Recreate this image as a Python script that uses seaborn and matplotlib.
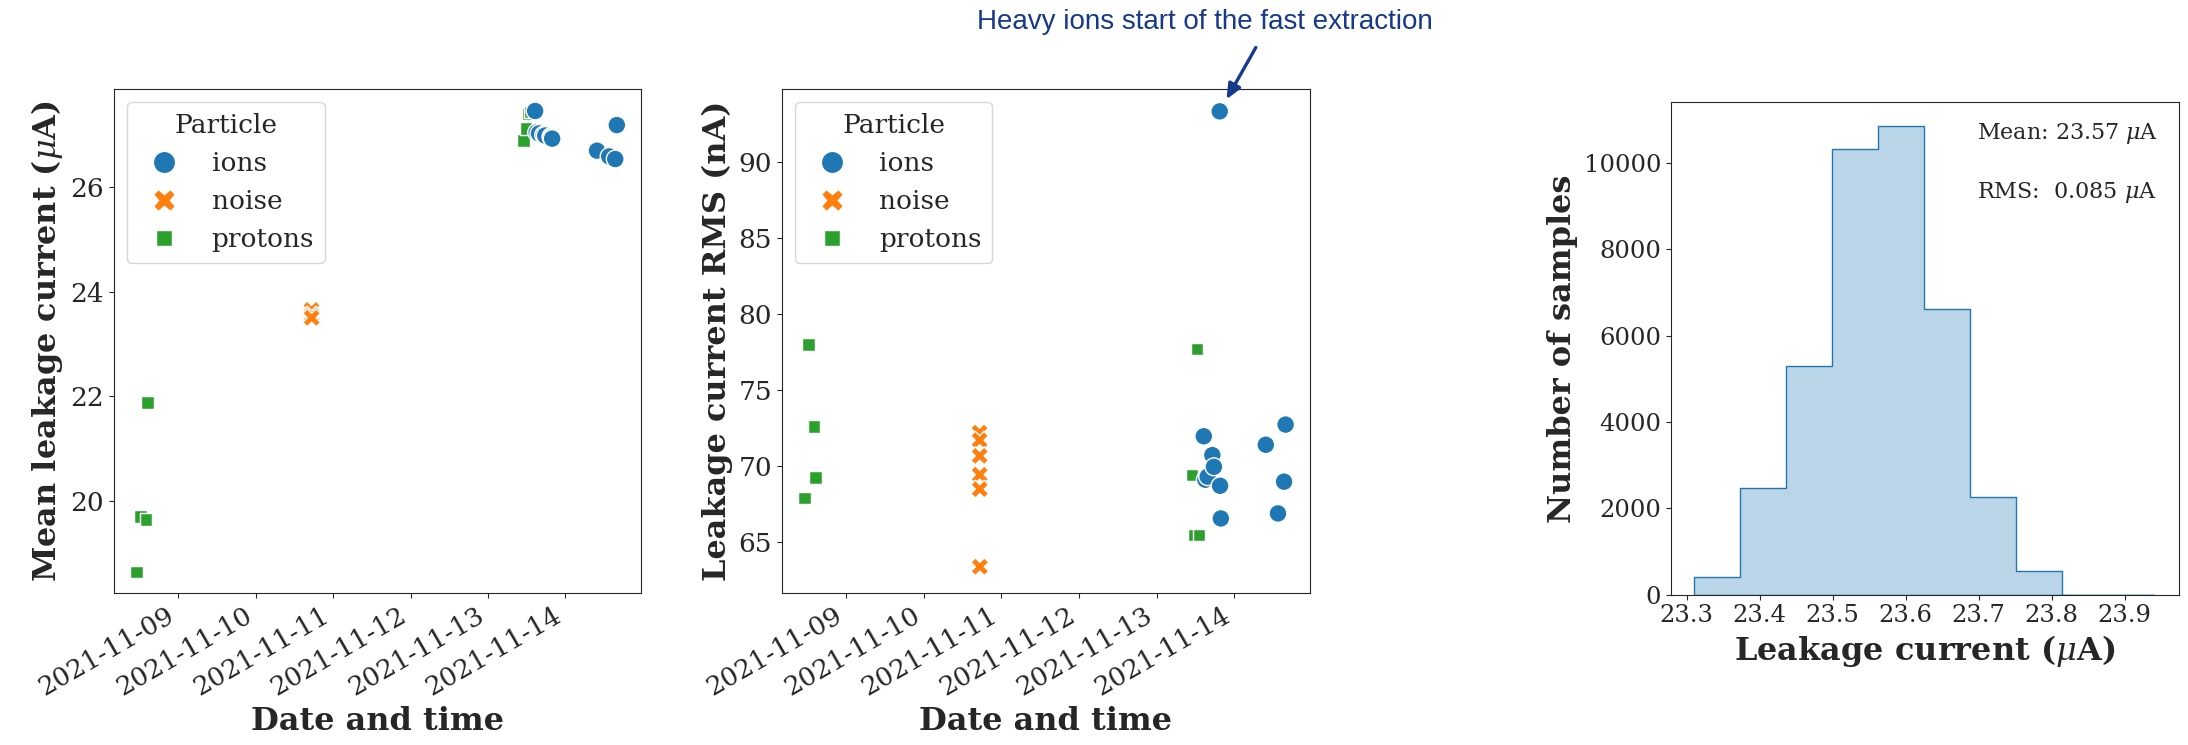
import numpy as np
import pandas as pd
import matplotlib
matplotlib.use("Agg")
import matplotlib.pyplot as plt
import matplotlib.dates as mdates
import seaborn as sns

# ---------------- data ----------------
particle = (["protons"] * 4 + ["noise"] * 6 + ["protons"] * 4 + ["ions"] * 8 + ["ions"] * 4)
timestamps = [
    "2021-11-08 11:02", "2021-11-08 12:14", "2021-11-08 13:55", "2021-11-08 14:24",
    "2021-11-10 17:14", "2021-11-10 17:15", "2021-11-10 17:16", "2021-11-10 17:17", "2021-11-10 17:18", "2021-11-10 17:19",
    "2021-11-13 11:02", "2021-11-13 11:46", "2021-11-13 12:29", "2021-11-13 13:12",
    "2021-11-13 14:38", "2021-11-13 15:07", "2021-11-13 15:50", "2021-11-13 17:17",
    "2021-11-13 17:46", "2021-11-13 19:34", "2021-11-13 19:41", "2021-11-13 19:55",
    "2021-11-14 09:50", "2021-11-14 13:36", "2021-11-14 15:29", "2021-11-14 15:58",
]
mean_current = [
    18.63, 19.69, 19.64, 21.88,
    23.62, 23.58, 23.65, 23.52, 23.55, 23.50,
    26.89, 27.13, 27.40, 27.44,
    27.46, 27.05, 27.03, 27.00, 26.99, 26.97, 26.95, 26.93,
    26.70, 26.59, 26.54, 27.19,
]
rms_current = [
    67.9, 78.0, 72.6, 69.25,
    72.2, 71.7, 70.67, 69.43, 68.48, 63.37,
    69.4, 65.46, 77.7, 65.46,
    71.96, 69.1, 69.3, 70.72, 69.95, 93.35, 68.7, 66.55,
    71.4, 66.88, 68.97, 72.73,
]
hue_order = ["ions", "noise", "protons"]

hist_edges = [23.310, 23.373, 23.436, 23.499, 23.562, 23.625, 23.688, 23.751, 23.814, 23.877, 23.940]
hist_counts = [397, 2479, 5289, 10330, 10868, 6612, 2264, 537, 0, 0]
mean_value = 23.57
rms_value = 0.085

df = pd.DataFrame({
    "time": pd.to_datetime(timestamps),
    "Particle": particle,
    "mean": mean_current,
    "rms": rms_current,
})

# ---------------- style ----------------
sns.set_style("ticks")
plt.rcParams["font.family"] = ["DejaVu Serif"]
plt.rcParams["mathtext.fontset"] = "dejavuserif"
TICK_FS = 19
LABEL_FS = 23
HIST_TICK_FS = 17.5

fig = plt.figure(figsize=(21.88, 7.45), dpi=100)
ax1 = fig.add_axes([0.0521, 0.2040, 0.2409, 0.6765])
ax2 = fig.add_axes([0.3573, 0.2040, 0.2414, 0.6765])
ax3 = fig.add_axes([0.7636, 0.2020, 0.2322, 0.6607])

t0 = pd.Timestamp("2021-11-09")
xlim = (t0 - pd.Timedelta(hours=20.0), t0 + pd.Timedelta(hours=143.5))

for ax, col, ylabel, ylim in [
    (ax1, "mean", r"Mean leakage current ($\mu$A)", (18.23, 27.88)),
    (ax2, "rms", "Leakage current RMS (nA)", (61.64, 94.82)),
]:
    sns.scatterplot(data=df, x="time", y=col, hue="Particle", style="Particle",
                    hue_order=hue_order, style_order=hue_order, s=165, ax=ax)
    ax.set_xlim(*xlim)
    ax.set_ylim(*ylim)
    ax.xaxis.set_major_locator(mdates.DayLocator())
    ax.xaxis.set_major_formatter(mdates.DateFormatter("%Y-%m-%d"))
    ax.tick_params(labelsize=TICK_FS)
    for lab in ax.get_xticklabels():
        lab.set_rotation(30)
        lab.set_horizontalalignment("right")
    ax.set_xlabel("Date and time", fontsize=LABEL_FS, fontweight="bold")
    ax.set_ylabel(ylabel, fontsize=LABEL_FS, fontweight="bold")
    leg = ax.legend(title="Particle", loc="upper left", fontsize=TICK_FS,
                    title_fontsize=TICK_FS, markerscale=1.25)

ax2.set_yticks([65, 70, 75, 80, 85, 90])

# annotation for the outlier
idx = int(np.argmax(rms_current))
ax2.annotate("", xy=(df["time"][idx], rms_current[idx]), xytext=(26, 46),
             textcoords="offset points",
             arrowprops=dict(arrowstyle="-|>,head_length=0.9,head_width=0.4",
                             color="#17398a", lw=2.4, shrinkA=0, shrinkB=10))
fig.text(0.4465, 0.970, "Heavy ions start of the fast extraction", color="#17398a",
         family="Liberation Sans", fontsize=20, ha="left", va="center")

# histogram
centers = [(a + b) / 2 for a, b in zip(hist_edges[:-1], hist_edges[1:])]
sns.histplot(x=centers, weights=hist_counts, bins=hist_edges, element="step",
             alpha=0.3, color="C0", ax=ax3)
ax3.set_xlim(23.278, 23.974)
ax3.set_xticks([23.3, 23.4, 23.5, 23.6, 23.7, 23.8, 23.9])
ax3.tick_params(labelsize=HIST_TICK_FS)
ax3.set_xlabel(r"Leakage current ($\mu$A)", fontsize=LABEL_FS, fontweight="bold")
ax3.set_ylabel("Number of samples", fontsize=LABEL_FS, fontweight="bold")
ax3.text(0.603, 0.936, rf"Mean: {mean_value:.2f} $\mu$A", transform=ax3.transAxes,
         fontsize=16, ha="left", va="center")
ax3.text(0.603, 0.816, rf"RMS:  {rms_value:.3f} $\mu$A", transform=ax3.transAxes,
         fontsize=16, ha="left", va="center")

fig.savefig("out.png", dpi=100)
